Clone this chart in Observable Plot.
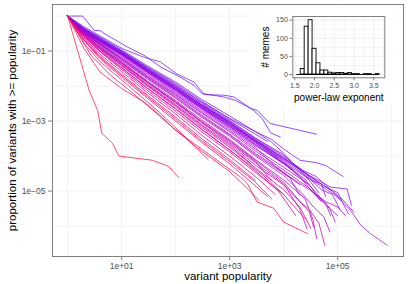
<!DOCTYPE html>
<html>
<head>
<meta charset="utf-8">
<script src="https://cdn.jsdelivr.net/npm/d3@7"></script>
<script src="https://cdn.jsdelivr.net/npm/@observablehq/plot@0.6"></script>
<style>
  body { margin: 0; background: white; }
  #wrap { position: relative; width: 415px; height: 284px; font-family: "Liberation Sans", Arial, sans-serif; }
  #inset { position: absolute; left: 252px; top: 8px; }
</style>
</head>
<body>
<div id="wrap"><div id="main"></div><div id="inset"></div></div>
<script>
// ---- main chart data: CCDF of variant popularity per meme ----
const memeExponents = [1.72,1.76,1.8,1.86,1.9,1.88,1.84,1.93,1.82,1.95,1.78,1.97,1.9,1.86,
  2.0,2.15,2.08,2.2,2.05,2.12,2.25,2.02,2.1,2.3,2.18,2.28,2.0,
  2.6,2.5,2.45,2.4,2.35,2.55,2.7,
  1.83,1.87,1.9,1.8,1.92,1.85,1.98,2.42];
const memeCurves = [
  [[1,1],[1.9,1],[3.1,0.39],[4.1,0.38],[4.7,0.32],[7.2,0.22],[12.8,0.13],[26,0.076],[53,0.035],[108,0.02],[218,0.0105],[311,6e-3],[445,5.6e-3],[780,5.5e-3],[1200,4.9e-3],[2450,2.3e-3],[3250,2.0e-3],[5300,9.3e-4],[5700,8.5e-4],[4.1e4,4.2e-4]],
  [[1,1],[2,0.5],[4,0.27],[10,0.12],[25,0.068],[52,0.049],[107,0.022],[220,0.013],[330,6e-3],[780,4.9e-3],[1290,3.9e-3],[2600,2.2e-3],[4000,1.2e-3],[5750,4.6e-4],[8700,3.5e-4]],
  [[1,1],[2,0.42],[4,0.22],[10,0.1],[30,0.032],[100,0.0105],[300,3.5e-3],[1000,1.2e-3],[3000,5e-4],[6000,3e-4],[1e4,1.6e-4],[2e4,7.6e-5],[4e4,6.5e-5],[6e4,5.4e-5],[1.27e5,2.6e-5]],
  [[1,1],[2,0.4],[4,0.2],[10,0.085],[30,0.028],[100,8e-3],[300,2.6e-3],[1000,8e-4],[3000,2.7e-4],[1e4,8e-5],[2.5e4,3.2e-5],[4.5e4,2e-5],[7.4e4,1.3e-5],[1.5e5,1.15e-5],[1.8e5,3.9e-6]],
  [[1,1],[2,0.38],[4,0.19],[10,0.08],[30,0.025],[100,7.5e-3],[300,2.4e-3],[1000,7e-4],[3000,2.2e-4],[1e4,6.5e-5],[3e4,2.2e-5],[5e4,1.4e-5],[1e5,6.8e-6],[1.74e5,2.8e-6],[2.7e5,1.05e-6],[4.1e5,6e-7],[8.3e5,2.8e-7]],
  [[1,1],[2,0.4],[4,0.21],[10,0.09],[30,0.03],[100,9e-3],[300,2.8e-3],[1000,9e-4],[3000,3e-4],[1e4,9e-5],[3e4,2.8e-5],[6e4,1.3e-5],[1e5,9e-6],[1.3e5,4e-6],[1.6e5,2.2e-6]],
  [[1,1],[2,0.41],[4,0.21],[10,0.095],[30,0.031],[100,0.01],[300,3.1e-3],[1000,1e-3],[3000,3.2e-4],[1e4,1e-4],[2.2e4,4e-5],[4e4,2.6e-5],[7e4,1.2e-5],[1.14e5,5.4e-6]],
  [[1,1],[2,0.37],[4,0.18],[10,0.075],[30,0.024],[100,7e-3],[300,2.2e-3],[1000,6.5e-4],[3000,2e-4],[1e4,6e-5],[2.5e4,2.2e-5],[4e4,8e-6],[6e4,4.5e-6],[7.4e4,2e-6]],
  [[1,1],[2,0.43],[4,0.23],[10,0.1],[30,0.034],[100,0.011],[300,3.4e-3],[1000,1.05e-3],[3000,3.3e-4],[1e4,1.1e-4],[2e4,4e-5],[3e4,2e-5],[4.5e4,9e-6]],
  [[1,1],[2,0.36],[4,0.17],[10,0.07],[30,0.022],[100,6.5e-3],[300,2e-3],[1000,6e-4],[3000,1.8e-4],[7000,5e-5],[1.3e4,2.4e-5],[2e4,7.5e-6]],
  [[1,1],[2,0.45],[4,0.25],[10,0.11],[30,0.038],[100,0.013],[300,4.2e-3],[1000,1.4e-3],[3000,5e-4],[6000,2.5e-4],[1e4,1.2e-4],[1.35e4,7.6e-5]],
  [[1,1],[2,0.35],[4,0.16],[10,0.065],[30,0.02],[100,6e-3],[300,1.8e-3],[1000,5.4e-4],[3000,1.6e-4],[1e4,4.8e-5],[3e4,1.5e-5],[5e4,6e-6],[7e4,3.5e-6],[9e4,1.3e-6]],
  [[1,1],[2,0.39],[4,0.2],[10,0.083],[30,0.027],[100,8.2e-3],[300,2.5e-3],[1000,7.6e-4],[3000,2.4e-4],[1e4,7e-5],[2.8e4,1.6e-5]],
  [[1,1],[2,0.44],[4,0.22],[10,0.092],[30,0.029],[100,9.5e-3],[300,3e-3],[1000,9.5e-4],[2000,4e-4],[4000,2e-4],[8000,9e-5]],
  [[1,1],[2,0.34],[4,0.15],[10,0.055],[30,0.016],[100,4.5e-3],[300,1.3e-3],[1000,3.7e-4],[3000,1e-4],[1e4,2.8e-5],[2.2e4,8.5e-6],[3.6e4,3.5e-6],[5.6e4,1.8e-6],[7.2e4,6.8e-7]],
  [[1,1],[2,0.3],[4,0.12],[10,0.042],[30,0.011],[100,3e-3],[300,8e-4],[1000,2.2e-4],[3000,5.5e-5],[1e4,1.5e-5],[2e4,5e-6],[3e4,3e-6],[4.5e4,1.2e-6],[5.8e4,2.8e-7]],
  [[1,1],[2,0.32],[4,0.13],[10,0.048],[30,0.013],[100,3.6e-3],[300,1e-3],[1000,2.8e-4],[3000,7.5e-5],[1e4,1.8e-5],[2e4,5e-6],[3e4,2.5e-6],[3.6e4,9.3e-7]],
  [[1,1],[2,0.28],[4,0.11],[10,0.038],[30,0.01],[100,2.6e-3],[300,6.8e-4],[1000,1.8e-4],[3000,4.6e-5],[1e4,1.1e-5],[2e4,3.5e-6],[3.2e4,8.5e-7]],
  [[1,1],[2,0.33],[4,0.14],[10,0.05],[30,0.014],[100,3.9e-3],[300,1.1e-3],[1000,3e-4],[3000,8e-5],[1e4,2.1e-5],[2.5e4,6e-6],[3.5e4,1.5e-6],[4.1e4,4.4e-7]],
  [[1,1],[2,0.31],[4,0.12],[10,0.045],[30,0.012],[100,3.3e-3],[300,9e-4],[1000,2.4e-4],[3000,6.5e-5],[1e4,1.6e-5],[2e4,3e-6],[2.7e4,8.5e-7]],
  [[1,1],[2,0.27],[4,0.1],[10,0.034],[30,8.8e-3],[100,2.3e-3],[300,6e-4],[1000,1.5e-4],[3000,3.8e-5],[8000,1e-5],[1.67e4,2e-6]],
  [[1,1],[2,0.34],[4,0.15],[10,0.056],[30,0.017],[100,4.8e-3],[300,1.4e-3],[1000,4e-4],[3000,1.1e-4],[1e4,3.2e-5],[3e4,1.1e-5],[6e4,5e-6],[1e5,3.5e-6],[1.4e5,2e-6]],
  [[1,1],[2,0.31],[4,0.13],[10,0.046],[30,0.013],[100,3.5e-3],[300,9.5e-4],[1000,2.6e-4],[3000,7e-5],[6000,2e-5]],
  [[1,1],[2,0.26],[4,0.095],[10,0.03],[30,7.5e-3],[100,1.9e-3],[300,5e-4],[1000,1.3e-4],[3000,3.4e-5],[1e4,8e-6],[2.5e4,1.6e-6]],
  [[1,1],[2,0.29],[4,0.115],[10,0.04],[30,0.0105],[100,2.8e-3],[300,7.5e-4],[1000,2e-4],[2500,6e-5]],
  [[1,1],[2,0.27],[4,0.1],[10,0.033],[30,8.5e-3],[100,2.2e-3],[300,5.8e-4],[1000,1.5e-4],[4000,3e-5],[1e4,8e-6]],
  [[1,1],[2,0.36],[4,0.16],[10,0.06],[30,0.018],[100,5.2e-3],[300,1.5e-3],[1000,4.3e-4],[3000,1.2e-4],[1e4,3.5e-5],[2e4,1.5e-5]],
  [[1,1],[2,0.12],[4,0.025],[10,8.5e-3],[26,3.5e-3],[52,1.45e-3],[93,6e-4],[300,1.6e-4],[1000,4.2e-5],[1600,2.5e-5],[2150,1.6e-5],[3200,4.9e-6],[6600,3.2e-6],[1e4,1.3e-6],[2.8e4,6e-7]],
  [[1,1],[2.7,0.076],[6.3,0.02],[12.7,8.5e-3],[30,2.8e-3],[100,5.5e-4],[300,1.4e-4],[1000,3.6e-5],[2000,1.3e-5],[3500,5.4e-6]],
  [[1,1],[2,0.2],[4,0.06],[10,0.018],[30,4.5e-3],[100,1e-3],[300,2.5e-4],[1000,6e-5],[2500,1.8e-5],[5000,7e-6]],
  [[1,1],[2,0.22],[4,0.07],[10,0.022],[30,5.5e-3],[100,1.3e-3],[300,3.2e-4],[1000,8e-5],[3000,2e-5]],
  [[1,1],[2,0.24],[4,0.08],[10,0.026],[30,6.5e-3],[100,1.6e-3],[300,4e-4],[1000,1e-4],[3000,2.6e-5],[7000,8e-6]],
  [[1,1],[2,0.17],[4,0.05],[10,0.015],[20,6e-3],[50,1.8e-3],[150,3.5e-4],[400,8e-5]],
  [[1,1],[2.5,7.6e-3],[3.6,2e-3],[4.3,4.5e-4],[6.8,2.3e-4],[8.9,1e-4],[37,7.6e-5],[74,5.1e-5],[115,2.4e-5]],
  [[1,1],[2,0.42],[4,0.21],[10,0.09],[30,0.029],[100,9e-3],[300,2.9e-3],[1000,9.2e-4],[3000,2.9e-4],[1e4,8.5e-5],[2e4,4.5e-5],[3.5e4,2e-5],[5e4,1.6e-5],[6e4,7e-6]],
  [[1,1],[2,0.39],[4,0.2],[10,0.088],[30,0.028],[100,8.5e-3],[300,2.7e-3],[1000,8.5e-4],[3000,2.6e-4],[1e4,7.5e-5],[3e4,2.3e-5],[5e4,1.1e-5],[8e4,8e-6],[1.1e5,3e-6]],
  [[1,1],[2,0.37],[4,0.19],[10,0.082],[30,0.026],[100,8e-3],[300,2.5e-3],[1000,7.8e-4],[3000,2.5e-4],[8000,8e-5],[1.5e4,4e-5]],
  [[1,1],[2,0.46],[4,0.24],[10,0.1],[30,0.035],[100,0.012],[300,3.8e-3],[1000,1.15e-3],[2500,5e-4],[5000,2.6e-4]],
  [[1,1],[2,0.36],[4,0.18],[10,0.078],[30,0.025],[100,7.8e-3],[300,2.3e-3],[1000,7.2e-4],[3000,2.1e-4],[1e4,6.2e-5],[2e4,2.5e-5],[3e4,1.2e-5],[5e4,5e-6]],
  [[1,1],[2,0.41],[4,0.2],[10,0.087],[30,0.03],[100,9.2e-3],[300,2.9e-3],[1000,8.8e-4],[3000,2.8e-4],[1e4,8.8e-5],[3e4,2.6e-5],[8e4,1e-5],[1.2e5,6e-6],[2e5,2.5e-6]],
  [[1,1],[2,0.35],[4,0.16],[10,0.062],[30,0.019],[100,5.6e-3],[300,1.7e-3],[1000,5e-4],[3000,1.4e-4],[1e4,4e-5],[3e4,1.2e-5],[6e4,4e-6],[1e5,2e-6]],
  [[1,1],[2,0.21],[4,0.065],[10,0.02],[30,5e-3],[100,1.15e-3],[300,2.8e-4],[1000,7e-5],[3000,1.8e-5],[6000,6e-6]]
];
const xTicks = [10, 1000, 1e5];
const xTickLabels = ["1e+01", "1e+03", "1e+05"];
const xMinor = [1, 100, 1e4, 1e6];
const yTicks = [1e-1, 1e-3, 1e-5];
const yTickLabels = ["1e\u221201", "1e\u221203", "1e\u221205"];
const yMinor = [1, 1e-2, 1e-4, 1e-6];
const xTitle = "variant popularity";
const yTitle = "proportion of variants with >= popularity";

// ---- inset histogram data ----
const binCenters = [1.6,1.7,1.8,1.9,2.0,2.1,2.2,2.3,2.4,2.5,2.6,2.7,2.8,2.9,3.0,3.1,3.2,3.3,3.4,3.5,3.6];
const binCounts  = [0,15,132,150,71,31,11,11,5,3,4,4,2,4,1,1,0,1,1,0,1];
const binWidth = 0.1;
const hxTicks = [1.5, 2.0, 2.5, 3.0, 3.5];
const hxTickLabels = ["1.5", "2.0", "2.5", "3.0", "3.5"];
const hxMinor = [1.75, 2.25, 2.75, 3.25, 3.75];
const hyTicks = [0, 50, 100, 150];
const hyMinor = [25, 75, 125];
const hxTitle = "power-law exponent";
const hyTitle = "# memes";

const font = '"Liberation Sans", Arial, Helvetica, sans-serif';

const rows = memeCurves.flatMap((pts, i) =>
  pts.map(([popularity, proportion]) => ({meme: i, exponent: memeExponents[i], popularity, proportion})));

const main = Plot.plot({
  width: 415, height: 284,
  marginLeft: 52, marginRight: 12, marginTop: 4, marginBottom: 28,
  style: {fontFamily: font, background: "white", overflow: "visible"},
  x: {type: "log", domain: [0.525, 1.66e6]},
  y: {type: "log", domain: [1.35e-7, 2.14]},
  color: {type: "linear", domain: [1.72, 2.7], range: ["#6a14ff", "#ff1744"], interpolate: "lab"},
  marks: [
    Plot.ruleX(xMinor, {stroke: "#f3f3f3", strokeWidth: 1}),
    Plot.ruleY(yMinor, {stroke: "#f3f3f3", strokeWidth: 1}),
    Plot.ruleX(xTicks, {stroke: "#e8e8e8", strokeWidth: 0.6}),
    Plot.ruleY(yTicks, {stroke: "#e8e8e8", strokeWidth: 0.6}),
    Plot.line(rows, {x: "popularity", y: "proportion", z: "meme", stroke: "exponent", strokeWidth: 0.8, strokeOpacity: 0.95}),
    Plot.frame({stroke: "#7f7f7f", strokeWidth: 1}),
    Plot.axisX({ticks: xTicks, tickFormat: d => xTickLabels[xTicks.indexOf(d)], tickSize: 4, tickPadding: 2,
      fontSize: 8.5, stroke: "#7f7f7f", fill: "#4d4d4d", label: null}),
    Plot.axisY({ticks: yTicks, tickFormat: d => yTickLabels[yTicks.indexOf(d)], tickSize: 4, tickPadding: 3,
      fontSize: 8.5, stroke: "#7f7f7f", fill: "#4d4d4d", label: null}),
    Plot.text([xTitle], {frameAnchor: "bottom", dy: 20, textAnchor: "middle", lineAnchor: "middle",
      fontSize: 11.5, fill: "black", text: d => d}),
    Plot.text([yTitle], {frameAnchor: "left", dx: -40, rotate: -90, textAnchor: "middle", lineAnchor: "middle",
      fontSize: 11.5, fill: "black", text: d => d})
  ]
});
document.getElementById("main").appendChild(main);

const bins = binCenters.map((c, i) => ({x1: c - binWidth / 2, x2: c + binWidth / 2, count: binCounts[i]}));

const inset = Plot.plot({
  width: 145, height: 97,
  marginLeft: 40.3, marginRight: 12.7, marginTop: 8, marginBottom: 27.7,
  style: {fontFamily: font, background: "white", overflow: "visible"},
  x: {domain: [1.449, 3.78]},
  y: {domain: [-9.1, 160.2]},
  marks: [
    Plot.ruleX(hxMinor, {stroke: "#f3f3f3", strokeWidth: 1}),
    Plot.ruleY(hyMinor, {stroke: "#f3f3f3", strokeWidth: 1}),
    Plot.ruleX(hxTicks, {stroke: "#e6e6e6", strokeWidth: 0.6}),
    Plot.ruleY(hyTicks, {stroke: "#e6e6e6", strokeWidth: 0.6}),
    Plot.rect(bins, {x1: "x1", x2: "x2", y1: 0, y2: "count", fill: "white", stroke: "black", strokeWidth: 0.9}),
    Plot.ruleY([0], {x1: bins[0].x1, x2: bins[bins.length - 1].x2, stroke: "black", strokeWidth: 0.9}),
    Plot.frame({stroke: "#7f7f7f", strokeWidth: 1}),
    Plot.axisX({ticks: hxTicks, tickFormat: d => hxTickLabels[hxTicks.indexOf(d)], tickSize: 3, tickPadding: 2,
      fontSize: 7, stroke: "#7f7f7f", fill: "#4d4d4d", label: null}),
    Plot.axisY({ticks: hyTicks, tickSize: 3, tickPadding: 2,
      fontSize: 7, stroke: "#7f7f7f", fill: "#4d4d4d", label: null}),
    Plot.text([hxTitle], {frameAnchor: "bottom", dy: 19.7, textAnchor: "middle", lineAnchor: "middle",
      fontSize: 10, fill: "black", text: d => d}),
    Plot.text([hyTitle], {frameAnchor: "left", dx: -27, rotate: -90, textAnchor: "middle", lineAnchor: "middle",
      fontSize: 10, fill: "black", text: d => d})
  ]
});
document.getElementById("inset").appendChild(inset);
</script>
</body>
</html>
